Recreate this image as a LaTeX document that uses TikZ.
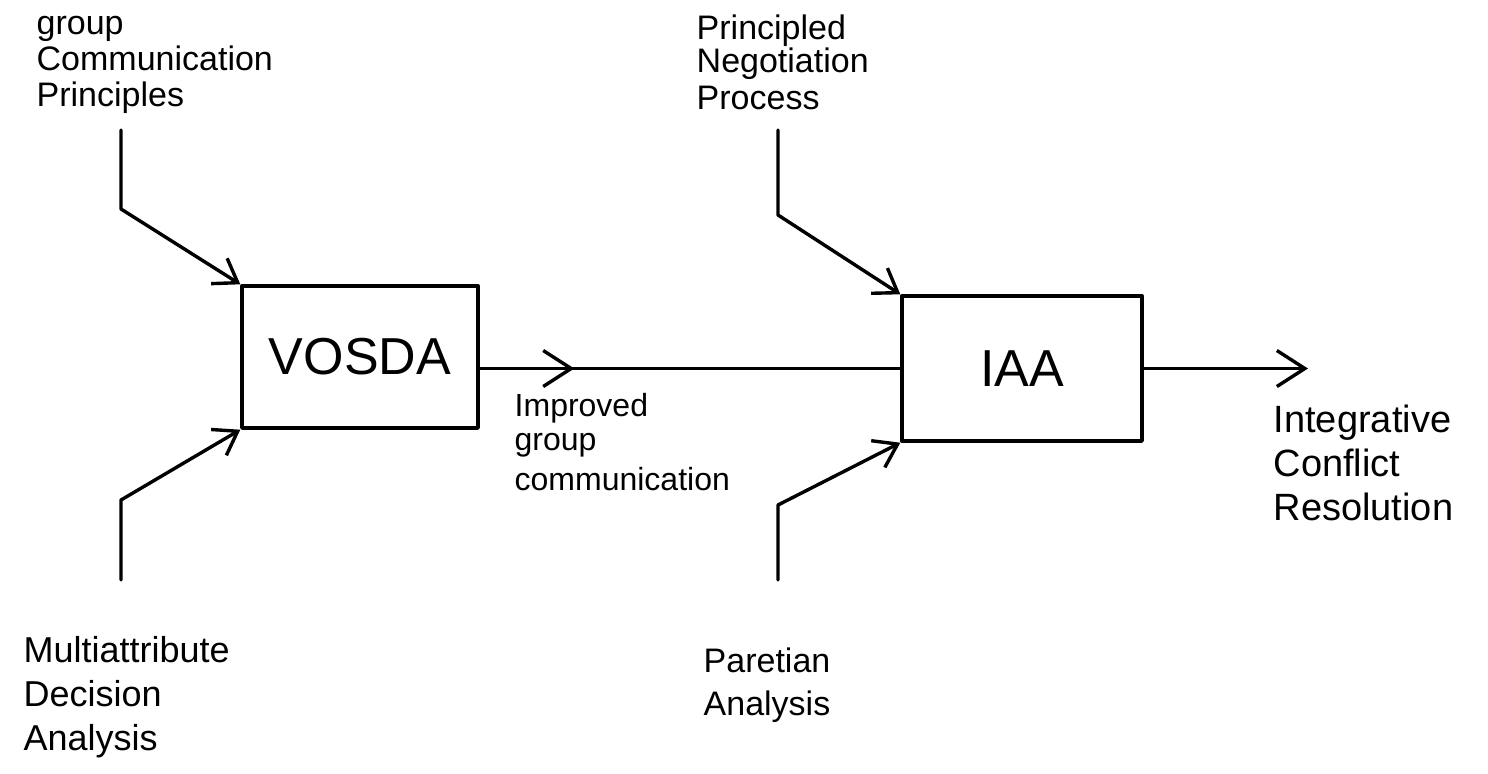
\documentclass[tikz,border=0pt]{standalone}
\usepackage{fontspec}
\setmainfont{Liberation Sans}
\usetikzlibrary{arrows.meta,decorations.markings}
\begin{document}
\begin{tikzpicture}[x=0.5pt,y=-0.5pt,
  line width=1.7pt, line cap=round, line join=round,
  box/.style={draw, minimum width=#1, minimum height=72pt, inner sep=0pt, font=\fontsize{26}{28}\selectfont},
  lbl/.style={align=left, anchor=north west, inner sep=0pt},
  tip/.style={-{Straight Barb[length=11pt,width=15pt,line width=1.7pt]}},
  bigtip/.style={-{Straight Barb[length=14pt,width=18pt,line width=1.7pt]}},
  midtip/.style={postaction={decorate}, decoration={markings, mark=at position #1 with {\arrow{Straight Barb[length=14pt,width=18pt,line width=1.7pt]}}}}
]
\useasboundingbox (0,0) rectangle (1488,773);
% boxes
\node[box=118pt, minimum height=71pt] (vosda) at (360,357) {VOSDA};
\node[box=120pt, minimum height=72.5pt] (iaa) at (1022,368.5) {IAA\hspace{46pt}};
% labels
\node[lbl, font=\fontsize{17}{18}\selectfont] (gcp) at (35,9) {\vphantom{A}group\\Communication\\Principles};
\node[lbl, font=\fontsize{17}{16.5}\selectfont] (pnp) at (695,13) {\vphantom{A}Principled\\Negotiation\\[2pt]Process};
\node[lbl, font=\fontsize{18}{22}\selectfont] (mda) at (22,635) {\vphantom{A}Multiattribute\\Decision\\Analysis};
\node[lbl, font=\fontsize{17}{21.5}\selectfont] (pa) at (702,646) {\vphantom{A}Paretian\\Analysis};
\node[lbl, font=\fontsize{16}{17}\selectfont] (igc) at (513,392) {\vphantom{A}Improved\\group\\[3pt]communication};
\node[lbl, font=\fontsize{19}{22}\selectfont] (icr) at (1272,403) {\vphantom{A}Integrative\\Conflict\\Resolution};
% bend points
\coordinate (a1) at (121,130); \coordinate (a2) at (121,209);
\coordinate (b1) at (121,580); \coordinate (b2) at (121,500);
\coordinate (c1) at (778,130); \coordinate (c2) at (778,215);
\coordinate (d1) at (778,580); \coordinate (d2) at (778,505);
\coordinate (out) at (1308,368.5);
% inputs
\draw[tip] (a1) -- (a2) -- (vosda.north west);
\draw[tip] (b1) -- (b2) -- (vosda.south west);
\draw[tip] (c1) -- (c2) -- (iaa.north west);
\draw[tip] (d1) -- (d2) -- (iaa.south west);
% flow
\draw[midtip=0.225] (vosda.east |- iaa.west) -- (iaa.west);
\draw[bigtip] (iaa.east) -- (out);
\end{tikzpicture}
\end{document}
